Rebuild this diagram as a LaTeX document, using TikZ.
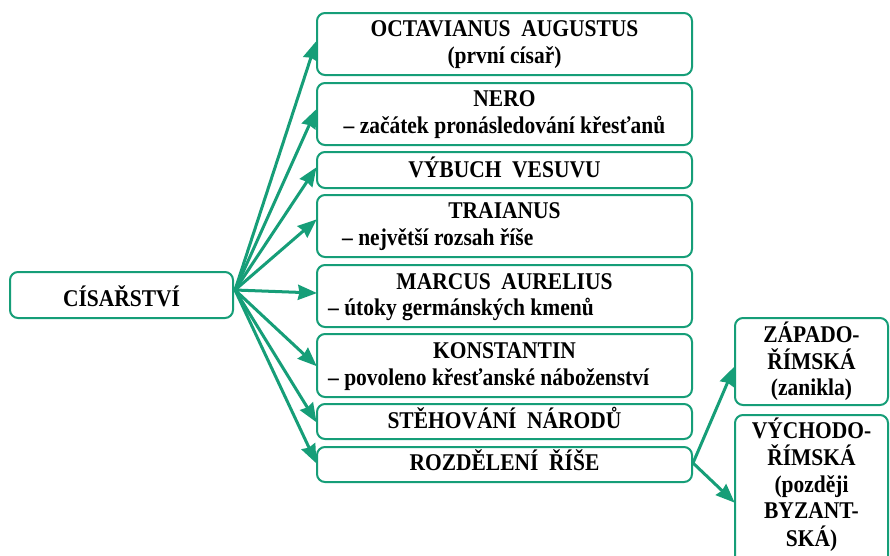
\documentclass[tikz,border=0pt]{standalone}
\usepackage{fontspec}
\setmainfont[FakeStretch=0.895]{Liberation Serif}
\usetikzlibrary{arrows.meta}
\definecolor{grn}{RGB}{22,158,120}
\begin{document}
\begin{tikzpicture}[x=1pt,y=-1pt,
  box/.style={draw=grn, line width=2pt, rounded corners=8pt, inner sep=0pt, fill=white},
  txt/.style={inner sep=0pt, font=\fontsize{24}{27}\selectfont\bfseries, text=black},
  arr/.style={draw=grn, line width=3pt, -{Triangle[length=19pt,width=15pt,inset=1.5pt]}, shorten >=-1pt}]
\clip (0,0) rectangle (890,555);
\fill[white] (0,0) rectangle (890,555);
% boxes
\node[box, minimum width=223, minimum height=46] (cis) at (121.5,295) {};
\node[box, minimum width=375, minimum height=62] (oct) at (504.5,44) {};
\node[box, minimum width=375, minimum height=62] (nero) at (504.5,114) {};
\node[box, minimum width=375, minimum height=36] (vyb) at (504.5,170) {};
\node[box, minimum width=375, minimum height=62] (trai) at (504.5,226) {};
\node[box, minimum width=375, minimum height=62] (marc) at (504.5,296) {};
\node[box, minimum width=375, minimum height=63] (kon) at (504.5,365.5) {};
\node[box, minimum width=375, minimum height=35] (steh) at (504.5,421.5) {};
\node[box, minimum width=375, minimum height=35] (roz) at (504.5,464.5) {};
\node[box, minimum width=153, minimum height=87] (zap) at (811.5,361.5) {};
\node[box, minimum width=153, minimum height=155] (vych) at (811.5,492.5) {};
% texts
\node[txt, anchor=base] (cist) at (121.5,306) {CÍSAŘSTVÍ};
\node[txt, anchor=base] (oct1) at (504.5,36) {OCTAVIANUS\ \ AUGUSTUS};
\node[txt, anchor=base] (oct2) at (504.5,63) {(první císař)};
\node[txt, anchor=base] (nero1) at (504.5,106) {NERO};
\node[txt, anchor=base] (nero2) at (504.5,133) {– začátek pronásledování křesťanů};
\node[txt, anchor=base] (vyb1) at (504.5,177) {VÝBUCH\ \ VESUVU};
\node[txt, anchor=base] (trai1) at (504.5,218) {TRAIANUS};
\node[txt, anchor=base west] (trai2) at (342,245) {– největší rozsah říše};
\node[txt, anchor=base] (marc1) at (504.5,289) {MARCUS\ \ AURELIUS};
\node[txt, anchor=base west] (marc2) at (328,315) {– útoky germánských kmenů};
\node[txt, anchor=base] (kon1) at (504.5,358) {KONSTANTIN};
\node[txt, anchor=base west] (kon2) at (328,385) {– povoleno křesťanské náboženství};
\node[txt, anchor=base] (steh1) at (504.5,428) {STĚHOVÁNÍ\ \ NÁRODŮ};
\node[txt, anchor=base] (roz1) at (504.5,470) {ROZDĚLENÍ\ \ ŘÍŠE};
\node[txt, anchor=base] (zap1) at (811.5,342) {ZÁPADO-};
\node[txt, anchor=base] (zap2) at (811.5,369) {ŘÍMSKÁ};
\node[txt, anchor=base] (zap3) at (811.5,395) {(zanikla)};
\node[txt, anchor=base] (vych1) at (811.5,438) {VÝCHODO-};
\node[txt, anchor=base] (vych2) at (811.5,465) {ŘÍMSKÁ};
\node[txt, anchor=base] (vych3) at (811.5,492) {(později};
\node[txt, anchor=base] (vych4) at (811.5,518) {BYZANT-};
\node[txt, anchor=base] (vych5) at (811.5,546) {SKÁ)};
% connectors
\coordinate (src) at (235,290);
\draw[arr] (src) -- ([yshift=2pt]oct.west);
\draw[arr] (src) -- ([yshift=4pt]nero.west);
\draw[arr] (src) -- ([yshift=2pt]vyb.west);
\draw[arr] (src) -- ([yshift=6pt]trai.west);
\draw[arr] (src) -- ([yshift=3pt]marc.west);
\draw[arr] (src) -- (kon.west);
\draw[arr] (src) -- (steh.west);
\draw[arr] (src) -- ([yshift=2pt]roz.west);
\coordinate (rsrc) at (693,463);
\draw[arr] (rsrc) -- ([yshift=-6pt]zap.west);
\draw[arr] (rsrc) -- ([yshift=-9.5pt]vych.west);
\end{tikzpicture}
\end{document}
